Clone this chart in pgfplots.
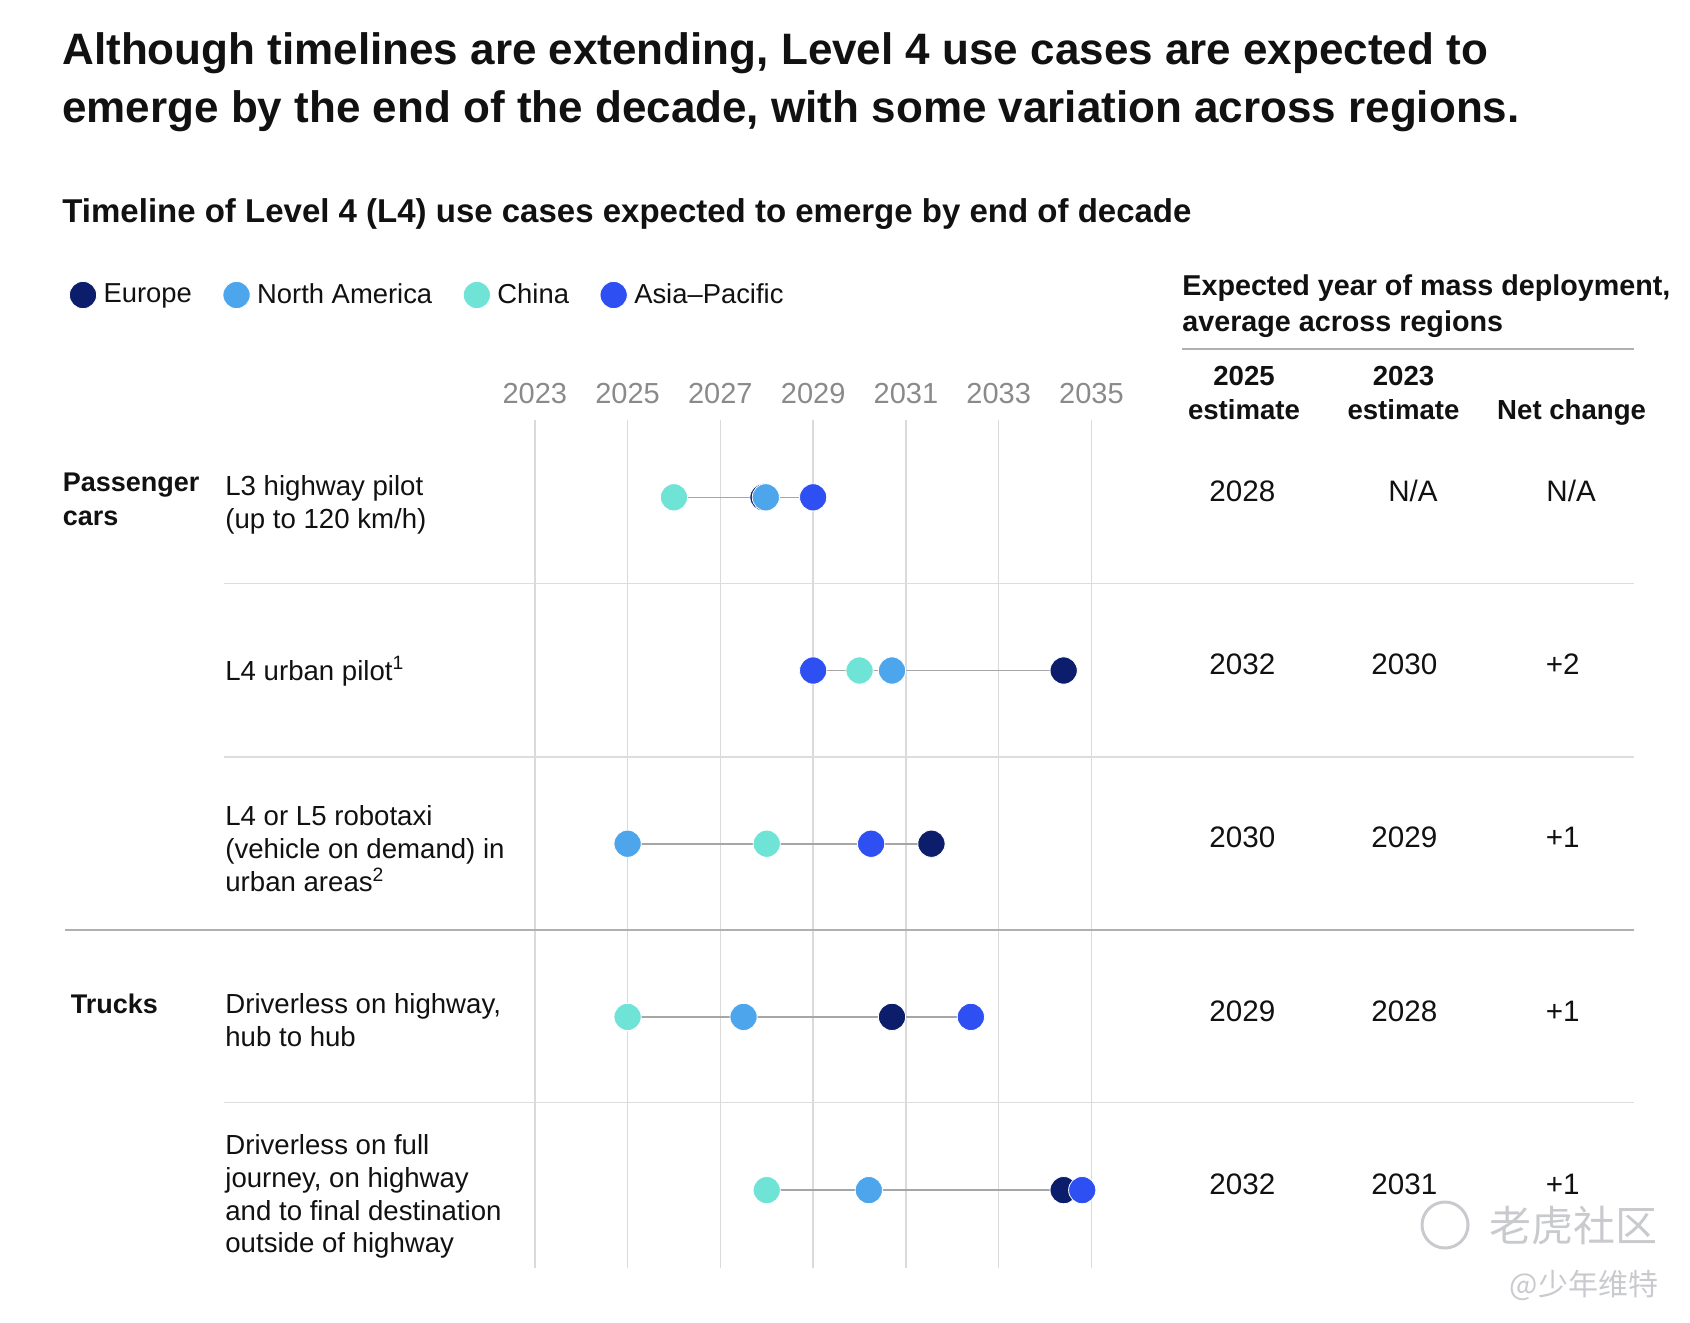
\documentclass[border=0pt]{standalone}
\usepackage{fontspec}
\setmainfont{Liberation Sans}
\newfontfamily\cjk{Noto Sans CJK SC}
\usepackage{pgfplots}
\usepackage{pgfplotstable}
\pgfplotsset{compat=1.18}
\newcommand\fs[2]{\fontsize{#1}{#2}\selectfont}
\definecolor{eu}{HTML}{0B1D6B}
\definecolor{na}{HTML}{4DA6EC}
\definecolor{cn}{HTML}{6FE3D6}
\definecolor{ap}{HTML}{2E4FF2}
\definecolor{gridc}{HTML}{DADADA}
\definecolor{sepc}{HTML}{DDDDDD}
\definecolor{sepd}{HTML}{B0B0B0}
\definecolor{conn}{HTML}{A6A6A6}
\definecolor{tickc}{HTML}{8A8A8A}
\definecolor{wm}{HTML}{C9CACE}
\definecolor{txt}{HTML}{111111}

% row: 1 = L3 highway pilot ... 5 = Driverless on full journey
\pgfplotstableread{
row eu      na      cn      ap
1   2027.93 2027.98 2026.0  2029.0
2   2034.4  2030.7  2030.0  2029.0
3   2031.55 2025.0  2028.0  2030.25
4   2030.7  2027.5  2025.0  2032.4
5   2034.4  2030.2  2028.0  2034.8
}\dottab

\begin{document}
\begin{tikzpicture}
\useasboundingbox (0,0) rectangle (845pt,-661pt);
\begin{axis}[
  at={(0pt,0pt)}, anchor=north west,
  scale only axis, width=845pt, height=661pt,
  xmin=2011.472, xmax=2047.902,
  ymin=-1.8713, ymax=5.7616, y dir=reverse,
  hide axis, clip=false,
  dot/.style={only marks, mark=*, mark size=6.8pt,
    mark options={draw=white, line width=0.4pt, fill=#1}},
  legend image code/.code={\draw[#1] plot coordinates {(6.8pt,0pt)};},
  legend style={at={(axis description cs:0.04083,0.77685)}, anchor=west,
    draw=none, fill=none, inner sep=0pt, legend columns=4,
    font=\fs{13.7}{16}\color{txt},
    nodes={inner sep=0pt},
    /tikz/every odd column/.append style={column sep=3.5pt},
    /tikz/every even column/.append style={column sep=15.5pt}},
  legend cell align=left,
]
\pgfplotsinvokeforeach{2023,2025,2027,2029,2031,2033,2035}{
  \draw[gridc, line width=0.75pt] (axis cs:#1,0.5537) -- (axis cs:#1,5.4498);
  \node[anchor=base, text=tickc, font=\fs{14.5}{17}, inner sep=0pt]
    at (axis cs:#1,0.4573) {#1};
}
% connectors
\addplot[conn, line width=0.8pt, forget plot] coordinates {(2026,1) (2029,1)};
\addplot[conn, line width=0.8pt, forget plot] coordinates {(2029,2) (2034.4,2)};
\addplot[conn, line width=0.8pt, forget plot] coordinates {(2025,3) (2031.55,3)};
\addplot[conn, line width=0.8pt, forget plot] coordinates {(2025,4) (2032.4,4)};
\addplot[conn, line width=0.8pt, forget plot] coordinates {(2028,5) (2034.8,5)};
% dots
\addplot[dot=eu] table[x=eu, y=row] {\dottab};
\addlegendentry{Europe}
\addplot[dot=na] table[x=na, y=row] {\dottab};
\addlegendentry{North America}
\addplot[dot=cn] table[x=cn, y=row] {\dottab};
\addlegendentry{China}
\addplot[dot=ap] table[x=ap, y=row] {\dottab};
\addlegendentry{Asia–Pacific}
\end{axis}

\begin{scope}[x=0.5pt, y=-0.5pt, every node/.style={inner sep=0pt, text=txt}]
% rules
\draw[sepd, line width=1pt] (1182,348.7) -- (1634,348.7);
\draw[sepc, line width=0.8pt] (224,583.5) -- (1634,583.5);
\draw[sepc, line width=0.8pt] (224,756.7) -- (1634,756.7);
\draw[sepc, line width=0.8pt] (224,1102.3) -- (1634,1102.3);
\draw[sepd, line width=0.9pt] (65,929.7) -- (1634,929.7);

% title
\node[anchor=base west, font=\bfseries\fs{22.0}{27}] at (62,65)
  {Although timelines are extending, Level 4 use cases are expected to};
\node[anchor=base west, font=\bfseries\fs{22.0}{27}] at (62,122)
  {emerge by the end of the decade, with some variation across regions.};
\node[anchor=base west, font=\bfseries\fs{16.5}{20}] at (62,222)
  {Timeline of Level 4 (L4) use cases expected to emerge by end of decade};

% right header
\node[anchor=base west, font=\bfseries\fs{14.35}{17}] at (1182,295)
  {Expected year of mass deployment,};
\node[anchor=base west, font=\bfseries\fs{14.35}{17}] at (1182,331)
  {average across regions};
\node[anchor=base, font=\bfseries\fs{13.8}{16}] at (1244,385) {2025};
\node[anchor=base, font=\bfseries\fs{13.8}{16}] at (1244,419) {estimate};
\node[anchor=base, font=\bfseries\fs{13.8}{16}] at (1403.5,385) {2023};
\node[anchor=base, font=\bfseries\fs{13.8}{16}] at (1403.5,419) {estimate};
\node[anchor=base, font=\bfseries\fs{13.8}{16}] at (1571.6,419) {Net change};

% group labels
\node[anchor=base west, font=\bfseries\fs{13.5}{16.5}] at (62.5,491.7) {Passenger};
\node[anchor=base west, font=\bfseries\fs{13.5}{16.5}] at (62.5,525.7) {cars};
\node[anchor=base west, font=\bfseries\fs{13.5}{16.5}] at (70.4,1013.3) {Trucks};

% row labels
\begin{scope}[every node/.append style={anchor=base west, font=\fs{13.8}{16.5}}]
\node at (225,495) {L3 highway pilot};
\node at (225,528) {(up to 120 km/h)};
\node at (225,680) {L4 urban pilot\textsuperscript{1}};
\node at (225,825) {L4 or L5 robotaxi};
\node at (225,858.3) {(vehicle on demand) in};
\node at (225,891.7) {urban areas\textsuperscript{2}};
\node at (225,1013.3) {Driverless on highway,};
\node at (225,1046.7) {hub to hub};
\node at (225,1154) {Driverless on full};
\node at (225,1187.3) {journey, on highway};
\node at (225,1220) {and to final destination};
\node at (225,1252.7) {outside of highway};
\end{scope}

% values
\begin{scope}[every node/.append style={font=\fs{14.8}{17}}]
\node[anchor=base west] at (1209,501.5) {2028};
\node[anchor=base west] at (1209,674.7) {2032};
\node[anchor=base west] at (1209,847.9) {2030};
\node[anchor=base west] at (1209,1021.1) {2029};
\node[anchor=base west] at (1209,1194.3) {2032};
\node[anchor=base east] at (1438,501.5) {N/A};
\node[anchor=base west] at (1371,674.7) {2030};
\node[anchor=base west] at (1371,847.9) {2029};
\node[anchor=base west] at (1371,1021.1) {2028};
\node[anchor=base west] at (1371,1194.3) {2031};
\node[anchor=base west] at (1546,501.5) {N/A};
\node[anchor=base west] at (1545.5,674.7) {+2};
\node[anchor=base west] at (1545.5,847.9) {+1};
\node[anchor=base west] at (1545.5,1021.1) {+1};
\node[anchor=base west] at (1545.5,1194.3) {+1};
\end{scope}

% watermark
\draw[wm, line width=1.5pt] (1445,1225) circle (11.5pt);
\node[text=wm, font=\cjk\fs{21}{24}, anchor=center] at (1573,1225) {老虎社区};
\node[text=wm, font=\cjk\fs{15}{18}, anchor=center] at (1584,1285) {@少年维特};
\end{scope}
\end{tikzpicture}
\end{document}
